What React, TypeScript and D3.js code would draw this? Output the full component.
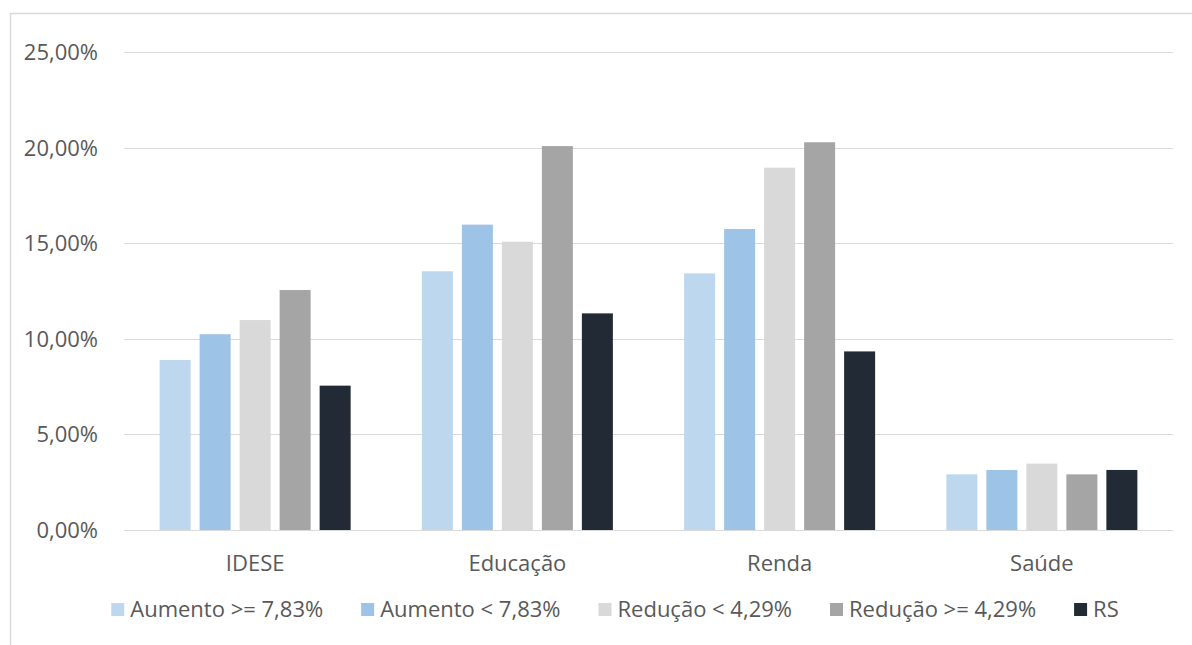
import React, { useEffect, useRef } from 'react';
import * as d3 from 'd3';

// categorias do eixo x
const categories = ['IDESE', 'Educação', 'Renda', 'Saúde'];

// series (valores em %)
const seriesNames = ['Aumento >= 7,83%', 'Aumento < 7,83%', 'Redução < 4,29%', 'Redução >= 4,29%', 'RS'];
const aumentoAlto = [8.89, 13.53, 13.42, 2.91];
const aumentoBaixo = [10.24, 15.97, 15.74, 3.14];
const reducaoBaixa = [10.98, 15.08, 18.95, 3.47];
const reducaoAlta = [12.55, 20.08, 20.28, 2.91];
const rs = [7.55, 11.33, 9.34, 3.14];
const seriesValues = [aumentoAlto, aumentoBaixo, reducaoBaixa, reducaoAlta, rs];
const seriesColors = ['#BDD7EE', '#9DC3E6', '#D9D9D9', '#A5A5A5', '#222A35'];

// ticks do eixo y
const yTicks = [0, 5, 10, 15, 20, 25];

const W = 1192;
const H = 645;
const FONT = '"Open Sans", sans-serif';
const FS = 22;

function App() {
    const ref = useRef<SVGSVGElement>(null);

    useEffect(() => {
        const svg = d3.select(ref.current);
        svg.selectAll('*').remove();

        const left = 124, right = 1173, top = 52, bottom = 530;

        const x0 = d3.scaleBand().domain(categories).range([left, right]).paddingInner(0.2717).paddingOuter(0.2717 / 2);
        const x1 = d3.scaleBand().domain(seriesNames).range([0, x0.bandwidth()]).paddingInner(0.225);
        const y = d3.scaleLinear().domain([0, 25]).range([bottom, top]);

        // moldura
        svg.append('rect')
            .attr('x', 10.5).attr('y', 13.5)
            .attr('width', W + 20).attr('height', H + 20)
            .attr('fill', 'none').attr('stroke', '#D9D9D9').attr('stroke-width', 1.5);

        // grade
        svg.append('g').selectAll('line')
            .data(yTicks)
            .enter().append('line')
            .attr('x1', left).attr('x2', right)
            .attr('y1', d => Math.round(y(d)) + 0.5).attr('y2', d => Math.round(y(d)) + 0.5)
            .attr('stroke', '#D9D9D9').attr('stroke-width', 1.2);

        // rotulos y
        svg.append('g').selectAll('text')
            .data(yTicks)
            .enter().append('text')
            .attr('x', 98).attr('y', d => y(d))
            .attr('dy', '0.36em')
            .attr('text-anchor', 'end')
            .attr('font-family', FONT).attr('font-size', FS).attr('fill', '#595959')
            .text(d => d3.format('.2f')(d).replace('.', ',') + '%');

        // barras
        const group = svg.append('g').selectAll('g')
            .data(categories)
            .enter().append('g')
            .attr('transform', d => `translate(${x0(d)},0)`);

        group.selectAll('rect')
            .data((c, ci) => seriesNames.map((s, si) => ({ s, si, v: seriesValues[si][ci] })))
            .enter().append('rect')
            .attr('x', d => x1(d.s)!)
            .attr('width', x1.bandwidth())
            .attr('y', d => y(d.v))
            .attr('height', d => bottom - y(d.v))
            .attr('fill', d => seriesColors[d.si]);

        // rotulos x
        svg.append('g').selectAll('text')
            .data(categories)
            .enter().append('text')
            .attr('x', d => x0(d)! + x0.bandwidth() / 2)
            .attr('y', 571)
            .attr('text-anchor', 'middle')
            .attr('font-family', FONT).attr('font-size', FS).attr('fill', '#595959')
            .text(d => d);

        // legenda
        const leg = svg.append('g');
        const items = leg.selectAll('g')
            .data(seriesNames)
            .enter().append('g');
        items.append('rect')
            .attr('width', 13).attr('height', 13)
            .attr('y', 603)
            .attr('fill', (d, i) => seriesColors[i]);
        const texts = items.append('text')
            .attr('x', 19).attr('y', 617)
            .attr('font-family', FONT).attr('font-size', FS).attr('fill', '#595959')
            .text(d => d);

        const widths: number[] = [];
        texts.each(function () { widths.push((this as SVGTextElement).getComputedTextLength()); });
        const gap = 38;
        const total = d3.sum(widths, w => 19 + w) + gap * (widths.length - 1);
        let cx = 615 - total / 2;
        items.attr('transform', (d, i) => {
            const t = `translate(${cx},0)`;
            cx += 19 + widths[i] + gap;
            return t;
        });
    }, []);

    return (
        <svg ref={ref} width={W} height={H}
            style={{ position: 'absolute', left: 0, top: 0, background: '#fff' }} />
    );
}

export default App;
